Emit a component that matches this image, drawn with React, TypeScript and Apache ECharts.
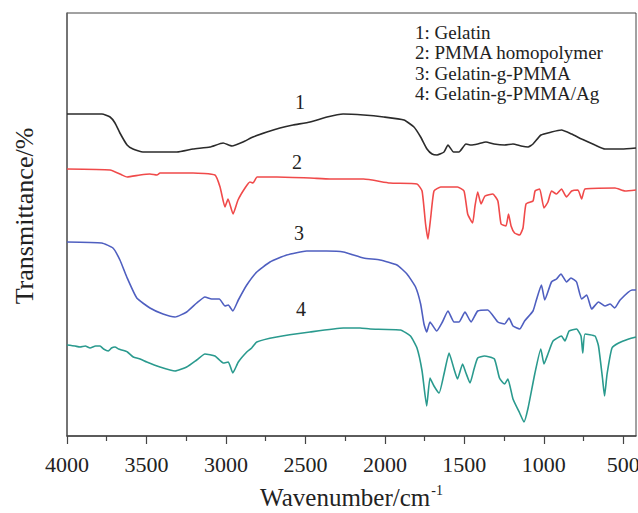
import React, { useEffect, useRef } from "react";
import * as echarts from "echarts";

// [wavenumber (cm^-1), transmittance (a.u., offset traces)]
const gelatin: [number, number][] = [
  [4000, 322], [3850, 322], [3780, 322], [3729, 319], [3698, 313], [3667, 303], [3622, 291], [3585, 287],
  [3522, 284], [3415, 284], [3308, 284], [3207, 287], [3100, 289], [3018, 293], [2962, 290], [2893, 294],
  [2830, 299], [2742, 304], [2660, 308], [2578, 311], [2471, 314], [2364, 319], [2263, 322], [2134, 321],
  [2007, 319], [1880, 316], [1817, 309], [1775, 299], [1735, 287], [1703, 282], [1672, 281], [1628, 284],
  [1603, 291], [1568, 284], [1534, 284], [1490, 292], [1458, 291], [1416, 292], [1364, 294], [1313, 292],
  [1247, 291], [1194, 292], [1143, 290], [1099, 289], [1068, 292], [1018, 301], [952, 304], [889, 306],
  [825, 302], [762, 297], [678, 291], [615, 287], [508, 287], [420, 288],
];

const pmma: [number, number][] = [
  [4000, 267], [3729, 266], [3654, 261], [3622, 259], [3541, 261], [3478, 262], [3434, 261], [3415, 263],
  [3207, 263], [3069, 261], [3037, 249], [3006, 229], [2987, 237], [2955, 222], [2924, 236], [2880, 248],
  [2849, 254], [2830, 253], [2804, 259], [2679, 259], [2471, 258], [2345, 257], [2134, 257], [1968, 253],
  [1798, 252], [1766, 245], [1744, 212], [1729, 197], [1712, 218], [1691, 245], [1649, 249], [1543, 249],
  [1502, 245], [1479, 222], [1448, 213], [1433, 230], [1416, 244], [1395, 232], [1370, 240], [1321, 242],
  [1289, 235], [1269, 212], [1238, 210], [1222, 222], [1206, 210], [1184, 203], [1152, 201], [1131, 208],
  [1112, 232], [1068, 235], [1055, 245], [1026, 247], [999, 228], [974, 234], [952, 245], [920, 242],
  [889, 247], [857, 239], [825, 245], [785, 246], [762, 237], [741, 247], [552, 248], [489, 245], [420, 246],
];

const gelatinGPmma: [number, number][] = [
  [4000, 194], [3782, 193], [3711, 188], [3667, 176], [3624, 159], [3561, 138], [3478, 128], [3396, 122],
  [3320, 119], [3247, 124], [3184, 133], [3132, 139], [3090, 137], [3042, 137], [3006, 130], [2985, 131],
  [2957, 125], [2922, 136], [2869, 151], [2806, 164], [2723, 174], [2618, 181], [2492, 185], [2366, 185],
  [2261, 184], [2134, 178], [2031, 176], [1924, 171], [1861, 162], [1807, 149], [1775, 132], [1754, 112],
  [1737, 104], [1716, 114], [1674, 105], [1638, 114], [1603, 125], [1565, 114], [1534, 114], [1496, 124],
  [1458, 114], [1416, 125], [1353, 126], [1289, 114], [1247, 112], [1219, 118], [1194, 110], [1152, 107],
  [1121, 115], [1068, 125], [1047, 136], [1015, 151], [994, 136], [952, 154], [920, 157], [892, 162],
  [857, 154], [829, 158], [794, 154], [762, 137], [730, 141], [699, 127], [656, 134], [615, 130],
  [583, 132], [554, 128], [520, 136], [445, 146], [420, 146],
];

const gelatinGPmmaAg: [number, number][] = [
  [4000, 91], [3950, 90], [3918, 89], [3885, 90], [3855, 88], [3820, 90], [3792, 90], [3770, 87],
  [3740, 85], [3720, 88], [3698, 89], [3675, 87], [3656, 86], [3620, 84], [3583, 79], [3540, 77],
  [3498, 74], [3415, 69], [3320, 65], [3247, 69], [3184, 76], [3132, 82], [3069, 80], [3017, 73],
  [2985, 74], [2957, 63], [2922, 74], [2869, 84], [2838, 88], [2806, 94], [2681, 99], [2471, 104],
  [2261, 108], [2156, 108], [2093, 107], [1902, 106], [1839, 100], [1798, 88], [1766, 65], [1737, 30],
  [1716, 58], [1691, 50], [1659, 43], [1628, 62], [1596, 83], [1565, 67], [1543, 57], [1511, 72],
  [1490, 63], [1464, 53], [1439, 67], [1416, 78], [1374, 80], [1311, 77], [1279, 58], [1247, 52],
  [1226, 57], [1194, 37], [1152, 23], [1125, 14], [1099, 28], [1057, 62], [1019, 87], [999, 72],
  [974, 82], [942, 95], [889, 100], [867, 95], [841, 105], [794, 107], [766, 100], [755, 83],
  [741, 102], [678, 100], [656, 90], [631, 58], [618, 40], [602, 62], [571, 88], [529, 93],
  [466, 97], [420, 99],
];

const majorTicks = [4000, 3500, 3000, 2500, 2000, 1500, 1000, 500];
const minorTicks = [3750, 3250, 2750, 2250, 1750, 1250, 750];
const legendLines = ["1: Gelatin", "2: PMMA homopolymer", "3: Gelatin-g-PMMA", "4: Gelatin-g-PMMA/Ag"];
const traceLabels = ["1", "2", "3", "4"];
const colors = ["#2b2b2b", "#f04a4a", "#4f5fc0", "#2a9a8e"];

const FONT = "'Liberation Serif', 'DejaVu Serif', serif";

export default function App() {
  const ref = useRef<HTMLDivElement>(null);
  useEffect(() => {
    if (!ref.current) return;
    const chart = echarts.init(ref.current, null, { renderer: "svg" });
    const seriesData = [gelatin, pmma, gelatinGPmma, gelatinGPmmaAg];
    const labelPos = [
      [300, 102],
      [297, 162],
      [299, 233],
      [301, 309],
    ];
    chart.setOption({
      animation: false,
      backgroundColor: "#ffffff",
      textStyle: { fontFamily: FONT },
      grid: {
        left: 67,
        right: 2,
        top: 13,
        bottom: 77,
        outerBoundsMode: "none",
        containLabel: false,
        show: true,
        borderColor: "#444",
        borderWidth: 1,
      },
      xAxis: [
        {
          type: "value",
          min: 420,
          max: 4000,
          inverse: true,
          position: "bottom",
          name: "{a|Wavenumber/cm}{b|-1}",
          nameLocation: "middle",
          nameGap: 47,
          nameTextStyle: {
            rich: {
              a: { fontSize: 25, fontFamily: FONT, color: "#222", verticalAlign: "bottom" },
              b: { fontSize: 14, fontFamily: FONT, color: "#222", verticalAlign: "top", padding: [0, 0, 13, 1] },
            },
          },
          axisLine: { show: true, lineStyle: { color: "#444", width: 1.5 } },
          axisTick: { show: true, customValues: majorTicks, length: 8, lineStyle: { color: "#444", width: 1.2 } },
          axisLabel: {
            customValues: majorTicks,
            formatter: (v: number) => String(v),
            fontSize: 22,
            fontFamily: FONT,
            color: "#222",
            margin: 17,
            hideOverlap: false,
          },
          splitLine: { show: false },
        },
        {
          type: "value",
          min: 420,
          max: 4000,
          inverse: true,
          position: "bottom",
          axisLine: { show: false },
          axisTick: { show: true, customValues: minorTicks, length: 5, lineStyle: { color: "#444", width: 1.2 } },
          axisLabel: { show: false },
          splitLine: { show: false },
        },
      ],
      yAxis: {
        type: "value",
        min: 0,
        max: 423,
        axisLine: { show: true, lineStyle: { color: "#666", width: 1.5 } },
        axisTick: { show: false },
        axisLabel: { show: false },
        splitLine: { show: false },
      },
      series: seriesData.map((d, i) => ({
        type: "line",
        name: legendLines[i],
        data: d,
        xAxisIndex: 0,
        showSymbol: false,
        smooth: 0.15,
        lineStyle: { color: colors[i], width: 1.6 },
        itemStyle: { color: colors[i] },
      })),
      graphic: [
        {
          type: "text",
          x: 24,
          y: 216,
          rotation: Math.PI / 2,
          style: {
            text: "Transmittance/%",
            fontSize: 26,
            fontFamily: FONT,
            fill: "#222",
            align: "center",
            verticalAlign: "middle",
          },
        },
        ...legendLines.map((t, i) => ({
          type: "text",
          left: 415,
          top: 23 + i * 20.4,
          style: { text: t, fontSize: 19, fontFamily: FONT, fill: "#222" },
        })),
        ...traceLabels.map((t, i) => ({
          type: "text",
          x: labelPos[i][0],
          y: labelPos[i][1],
          style: {
            text: t,
            fontSize: 20,
            fontFamily: FONT,
            fill: "#222",
            align: "center",
            verticalAlign: "middle",
          },
        })),
      ],
    });
    return () => chart.dispose();
  }, []);
  return (
    <div
      ref={ref}
      style={{ position: "absolute", left: 0, top: 0, width: 638, height: 513, background: "#fff" }}
    />
  );
}
